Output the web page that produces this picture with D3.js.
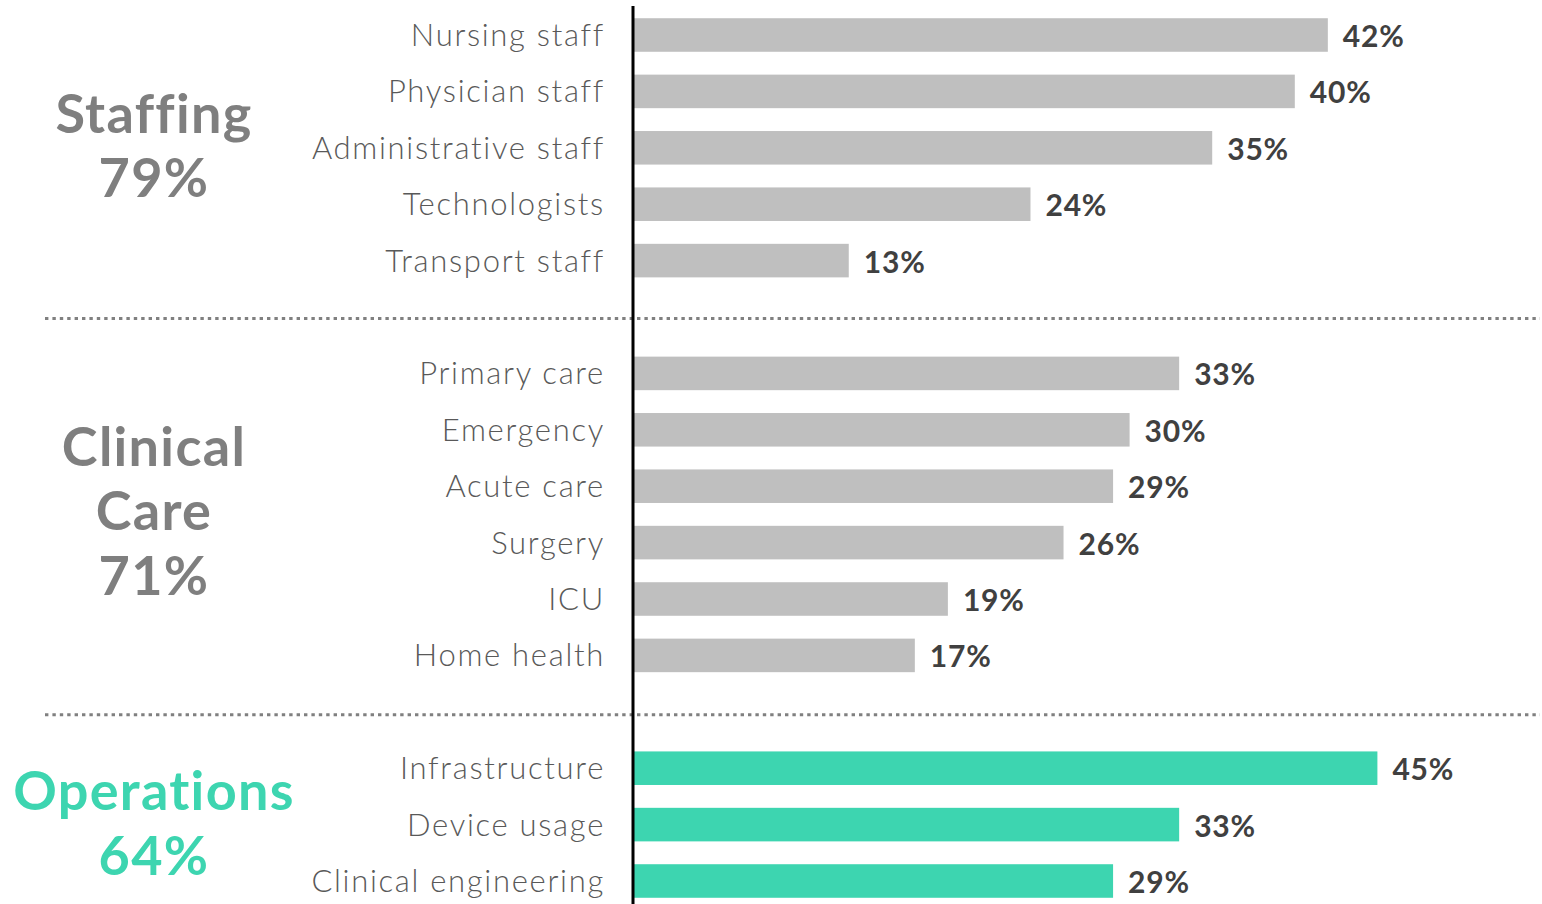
<!DOCTYPE html>
<html>
<head>
<meta charset="utf-8">
<script src="https://cdn.jsdelivr.net/npm/d3@7"></script>
<style>
  html, body { margin: 0; padding: 0; background: #fff; }
  svg { display: block; }
</style>
</head>
<body>
<svg id="chart" width="1542" height="904"></svg>
<script>
// Survey results: share of respondents naming each area, grouped by domain
const groups = ["Staffing", "Clinical Care", "Operations"];
const groupTotals = ["79%", "71%", "64%"];
const groupTitleLines = [["Staffing"], ["Clinical", "Care"], ["Operations"]];

const staffingCats = ["Nursing staff", "Physician staff", "Administrative staff", "Technologists", "Transport staff"];
const staffingVals = [42, 40, 35, 24, 13];

const clinicalCats = ["Primary care", "Emergency", "Acute care", "Surgery", "ICU", "Home health"];
const clinicalVals = [33, 30, 29, 26, 19, 17];

const operationsCats = ["Infrastructure", "Device usage", "Clinical engineering"];
const operationsVals = [45, 33, 29];

const grey = "#bfbfbf", teal = "#3dd5b0";
const groupBarColor = [grey, grey, teal];
const groupTitleColor = ["#7f7f7f", "#7f7f7f", "#3dd5b0"];

// Build row list: group rows separated by one empty "gap" row each
const groupCats = [staffingCats, clinicalCats, operationsCats];
const groupVals = [staffingVals, clinicalVals, operationsVals];
const rows = [];
const gaps = [];
groupCats.forEach((cats, gi) => {
  if (gi > 0) { const k = "gap" + gi; rows.push({ key: k, gap: true }); gaps.push(k); }
  cats.forEach((c, i) => rows.push({ key: c, label: c, value: groupVals[gi][i], group: gi }));
});

const svg = d3.select("#chart");
const font = "Lato, 'Open Sans', sans-serif";

const x = d3.scaleLinear().domain([0, 45]).range([634, 634 + 45 * 16.52]);
const y = d3.scaleBand()
  .domain(rows.map(r => r.key))
  .range([6.8, 909.2])
  .paddingInner(0.405)
  .paddingOuter(0.2025);

const bw = y.bandwidth();
const cy = k => y(k) + bw / 2;

// dotted separators between groups
svg.selectAll("line.sep").data(gaps).join("line")
  .attr("class", "sep")
  .attr("x1", 45).attr("x2", 1540)
  .attr("y1", (d, i) => cy(d) + (i === 0 ? 1.5 : 3))
  .attr("y2", (d, i) => cy(d) + (i === 0 ? 1.5 : 3))
  .attr("stroke", "#808080")
  .attr("stroke-width", 3)
  .attr("stroke-dasharray", "3.4 4");

const data = rows.filter(r => !r.gap);

// bars
svg.selectAll("rect.bar").data(data).join("rect")
  .attr("class", "bar")
  .attr("x", x(0))
  .attr("y", d => y(d.key))
  .attr("width", d => x(d.value) - x(0))
  .attr("height", bw)
  .attr("fill", d => groupBarColor[d.group]);

// category labels
svg.selectAll("text.cat").data(data).join("text")
  .attr("class", "cat")
  .attr("x", 605)
  .attr("y", d => cy(d.key) + 11)
  .attr("text-anchor", "end")
  .attr("font-family", font)
  .attr("font-size", 31)
  .attr("font-weight", 300)
  .attr("letter-spacing", 1.7)
  .attr("fill", "#595959")
  .text(d => d.label);

// value labels
svg.selectAll("text.val").data(data).join("text")
  .attr("class", "val")
  .attr("x", d => x(d.value) + 15)
  .attr("y", d => cy(d.key) + 12)
  .attr("font-family", font)
  .attr("font-size", 30)
  .attr("font-weight", 700)
  .attr("letter-spacing", 0.8)
  .attr("fill", "#404040")
  .text(d => d.value + "%");

// vertical baseline
svg.append("line")
  .attr("x1", 633).attr("x2", 633)
  .attr("y1", 6).attr("y2", 904)
  .attr("stroke", "#000").attr("stroke-width", 3);

// group titles with totals
const titleY = [[133, 197], [466, 530, 595], [810, 875]];
groups.forEach((g, gi) => {
  const lines = groupTitleLines[gi].concat([groupTotals[gi]]);
  const t = svg.append("text")
    .attr("text-anchor", "middle")
    .attr("font-family", font)
    .attr("font-size", 54)
    .attr("font-weight", 700)
    .attr("letter-spacing", 1.3)
    .attr("fill", groupTitleColor[gi]);
  lines.forEach((ln, li) => {
    t.append("tspan").attr("x", 154).attr("y", titleY[gi][li]).text(ln);
  });
});
</script>
</body>
</html>
